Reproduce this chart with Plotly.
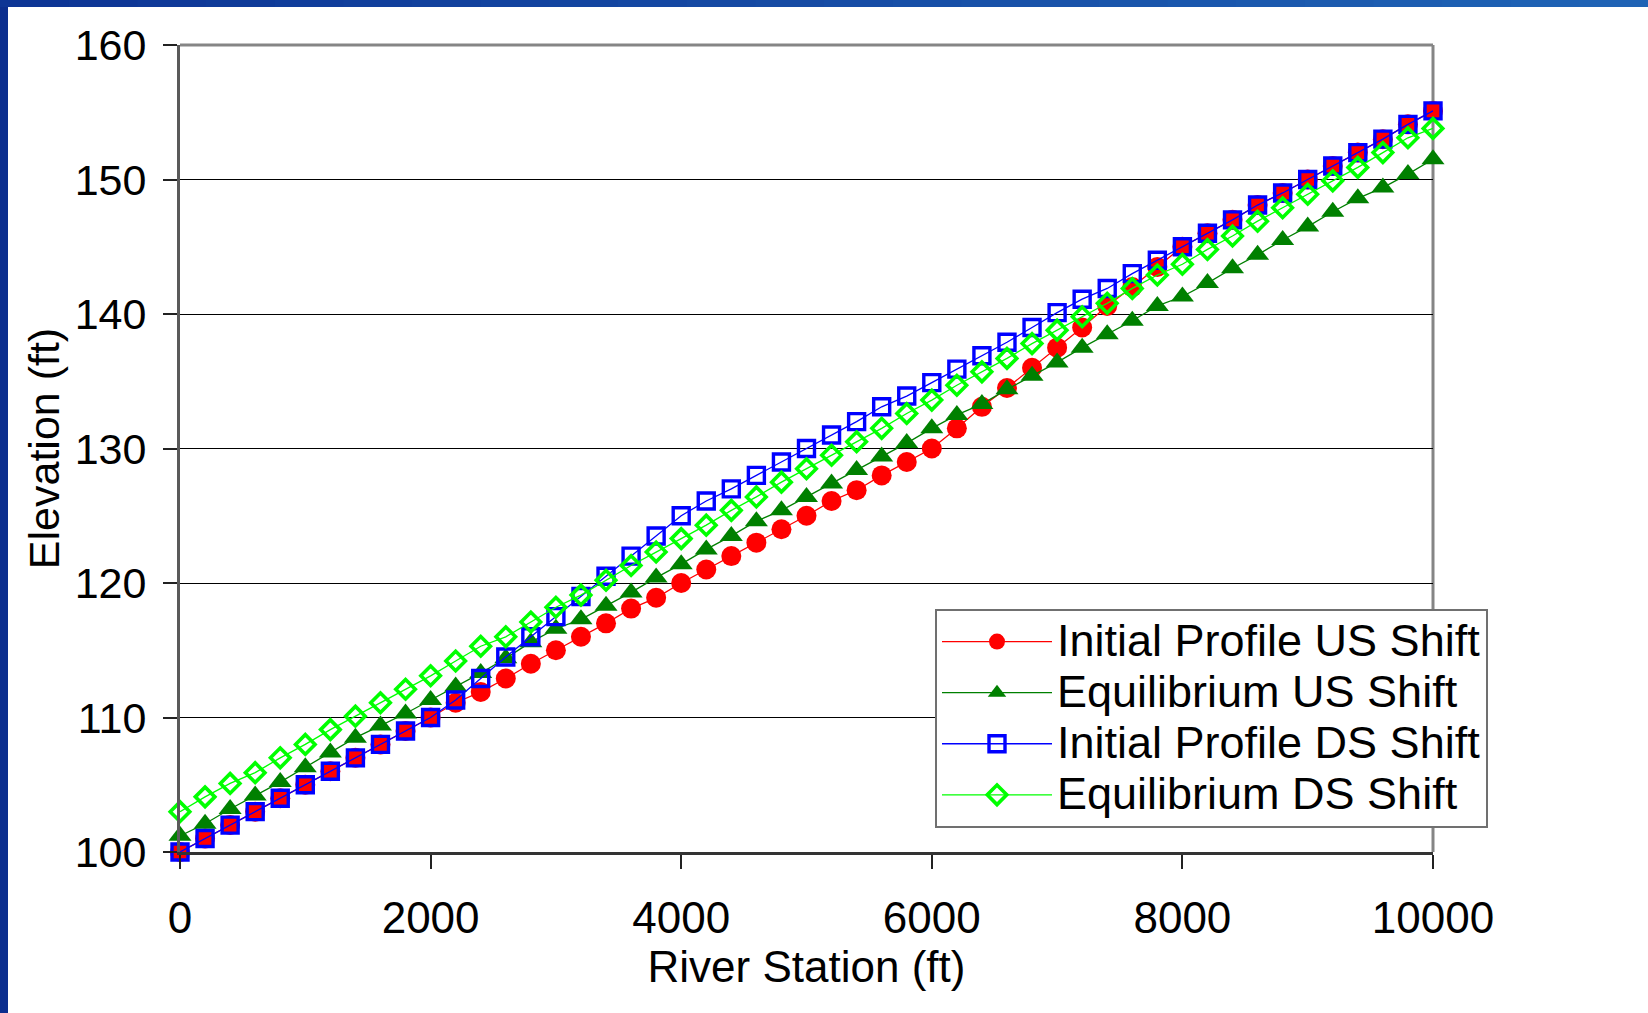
import plotly.graph_objects as go

# ---- data ----
station = [0, 200, 400, 600, 800, 1000, 1200, 1400, 1600, 1800,
           2000, 2200, 2400, 2600, 2800, 3000, 3200, 3400, 3600, 3800,
           4000, 4200, 4400, 4600, 4800, 5000, 5200, 5400, 5600, 5800,
           6000, 6200, 6400, 6600, 6800, 7000, 7200, 7400, 7600, 7800,
           8000, 8200, 8400, 8600, 8800, 9000, 9200, 9400, 9600, 9800, 10000]

initial_us = [100, 101, 102, 103, 104, 105, 106, 107, 108, 109,
              110, 111.1, 111.9, 112.9, 114, 115, 116, 117, 118.1, 118.9,
              120, 121, 122, 123, 124, 125, 126.1, 126.9, 128, 129,
              130, 131.5, 133.1, 134.5, 136, 137.5, 139, 140.6, 142, 143.5,
              145, 146, 147, 148.1, 149, 150, 151, 152, 153, 154.1, 155.1]

equil_us = [101.2, 102.1, 103.2, 104.2, 105.2, 106.3, 107.4, 108.5, 109.4, 110.3,
            111.3, 112.3, 113.3, 114.4, 115.6, 116.6, 117.3, 118.3, 119.3, 120.4,
            121.4, 122.5, 123.5, 124.6, 125.4, 126.4, 127.4, 128.4, 129.4, 130.4,
            131.5, 132.5, 133.3, 134.4, 135.4, 136.4, 137.5, 138.5, 139.5, 140.6,
            141.3, 142.3, 143.4, 144.4, 145.5, 146.5, 147.6, 148.6, 149.4, 150.4, 151.5]

initial_ds = [100, 101, 102, 103, 104, 105, 106, 107, 108, 109,
              110, 111.3, 112.9, 114.5, 116, 117.5, 119, 120.5, 122, 123.5,
              125, 126.1, 127, 128, 129, 130, 131, 132, 133.1, 133.9,
              134.9, 135.9, 136.9, 137.9, 139, 140.1, 141.1, 141.9, 143, 144,
              145, 146, 147, 148.1, 149, 150, 151, 152, 153, 154.1, 155.1]

equil_ds = [103.0, 104.1, 105.1, 105.9, 107.0, 108.0, 109.1, 110.1, 111.1, 112.1,
            113.1, 114.2, 115.3, 116.0, 117.1, 118.2, 119.1, 120.2, 121.3, 122.3,
            123.3, 124.3, 125.4, 126.4, 127.5, 128.5, 129.5, 130.5, 131.5, 132.6,
            133.6, 134.7, 135.7, 136.7, 137.8, 138.8, 139.8, 140.8, 141.9, 142.9,
            143.7, 144.8, 145.8, 146.9, 147.9, 148.9, 149.9, 150.9, 152.0, 153.1, 153.8]

series_names = ["Initial Profile US Shift", "Equilibrium US Shift",
                "Initial Profile DS Shift", "Equilibrium DS Shift"]
x_ticks = [0, 2000, 4000, 6000, 8000, 10000]
y_ticks = [100, 110, 120, 130, 140, 150, 160]

FONT = "Arial, 'Liberation Sans', sans-serif"


def legend_label(s):
    # larger legend text while keeping the compact row spacing of the original
    return '<span style="font-size:45px">%s</span>' % s


fig = go.Figure()
fig.add_trace(go.Scatter(
    x=station, y=initial_us, name=legend_label(series_names[0]), mode="lines+markers",
    line=dict(color="#ff0000", width=1.3),
    marker=dict(symbol="circle", size=20, color="#ff0000"),
    cliponaxis=False))
fig.add_trace(go.Scatter(
    x=station, y=equil_us, name=legend_label(series_names[1]), mode="lines+markers",
    line=dict(color="#008000", width=1.3),
    marker=dict(symbol="triangle-up", size=20, color="#008000"),
    cliponaxis=False))
fig.add_trace(go.Scatter(
    x=station, y=initial_ds, name=legend_label(series_names[2]), mode="lines+markers",
    line=dict(color="#0000ff", width=1.3),
    marker=dict(symbol="square-open", size=16, color="#0000ff",
                line=dict(color="#0000ff", width=3.4)),
    cliponaxis=False))
fig.add_trace(go.Scatter(
    x=station, y=equil_ds, name=legend_label(series_names[3]), mode="lines+markers",
    line=dict(color="#00ff00", width=1.3),
    marker=dict(symbol="diamond-open", size=15, color="#00ff00",
                line=dict(color="#00ff00", width=3.6)),
    cliponaxis=False))

# ---- decorative border (blue frame of the slide) ----
W, H = 1648, 1013
L, R, T, B = 180, 215, 45, 161
pw, ph = W - L - R, H - T - B


def px_x(px):
    return (px - L) / pw


def px_y(py):
    return (H - B - py) / ph


shapes = []
shapes.append(dict(type="rect", xref="paper", yref="paper",
                   x0=px_x(0), x1=px_x(8), y0=px_y(H), y1=px_y(0),
                   fillcolor="#0b2e8e", line=dict(width=0), layer="above"))
n = 24
c0 = (0x0d, 0x35, 0x95)
c1 = (0x1f, 0x63, 0xb5)
for i in range(n):
    t = i / (n - 1)
    col = "rgb(%d,%d,%d)" % tuple(round(a + (b - a) * t) for a, b in zip(c0, c1))
    shapes.append(dict(type="rect", xref="paper", yref="paper",
                       x0=px_x(W * i / n), x1=px_x(W * (i + 1) / n + 1),
                       y0=px_y(7), y1=px_y(0),
                       fillcolor=col, line=dict(width=0), layer="above"))
# top and right gray frame
shapes.append(dict(type="line", xref="paper", yref="paper", x0=0, x1=1, y0=1, y1=1,
                   line=dict(color="#858585", width=3), layer="above"))
shapes.append(dict(type="line", xref="paper", yref="paper", x0=1, x1=1, y0=0, y1=1,
                   line=dict(color="#858585", width=3), layer="below"))

fig.update_layout(
    width=W, height=H,
    margin=dict(l=L, r=R, t=T, b=B, pad=0),
    paper_bgcolor="white", plot_bgcolor="white",
    font=dict(family=FONT, color="black", size=43),
    showlegend=True,
    legend=dict(
        x=px_x(935), y=px_y(609), xanchor="left", yanchor="top",
        bgcolor="white", bordercolor="#707070", borderwidth=2,
        font=dict(family=FONT, size=37, color="black"),
        itemwidth=110, traceorder="normal", tracegroupgap=0,
    ),
    xaxis=dict(
        range=[0, 10000], tickvals=x_ticks, ticktext=[str(v) for v in x_ticks],
        ticks="outside", ticklen=14, tickwidth=1.5, tickcolor="#222",
        showline=True, linecolor="#333", linewidth=2.5,
        showgrid=False, zeroline=False,
        tickfont=dict(size=44), ticklabelstandoff=11,
        title=dict(text="River Station (ft)", font=dict(size=44), standoff=9),
    ),
    yaxis=dict(
        range=[100, 160], tickvals=y_ticks, ticktext=[str(v) for v in y_ticks],
        ticks="outside", ticklen=14, tickwidth=1.5, tickcolor="#222",
        showline=True, linecolor="#5a5a5a", linewidth=3,
        showgrid=True, gridcolor="#000000", gridwidth=1,
        zeroline=False,
        tickfont=dict(size=43), ticklabelstandoff=8,
        title=dict(text="Elevation (ft)", font=dict(size=43), standoff=2),
    ),
    shapes=shapes,
)

fig.write_html("out.html")
